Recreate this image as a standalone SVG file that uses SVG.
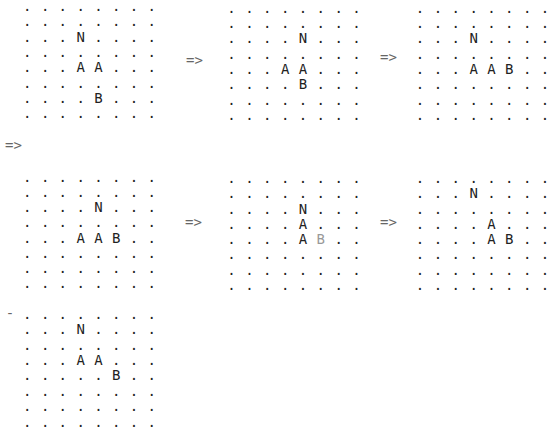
<svg xmlns="http://www.w3.org/2000/svg" width="550" height="429" viewBox="0 0 550 429">
<style>
  .g text { font-family: "DejaVu Sans Mono", "Liberation Mono", monospace; font-size: 14px; fill: #222; text-anchor: middle; }
  .g .faint { fill: #999; }
  .arr { font-family: "DejaVu Sans Mono", "Liberation Mono", monospace; font-size: 14px; fill: #666; }
</style>
<rect width="550" height="429" fill="#fff"/>

<g id="grid1" class="g">
  <text x="27.3 45.1 62.8 80.6 98.4 116.2 133.9 151.7" y="11">........</text>
  <text x="27.3 45.1 62.8 80.6 98.4 116.2 133.9 151.7" y="26.3">........</text>
  <text x="27.3 45.1 62.8 80.6 98.4 116.2 133.9 151.7" y="41.6">...N....</text>
  <text x="27.3 45.1 62.8 80.6 98.4 116.2 133.9 151.7" y="56.9">........</text>
  <text x="27.3 45.1 62.8 80.6 98.4 116.2 133.9 151.7" y="72.2">...AA...</text>
  <text x="27.3 45.1 62.8 80.6 98.4 116.2 133.9 151.7" y="87.5">........</text>
  <text x="27.3 45.1 62.8 80.6 98.4 116.2 133.9 151.7" y="102.8">....B...</text>
  <text x="27.3 45.1 62.8 80.6 98.4 116.2 133.9 151.7" y="118.1">........</text>
</g>

<g id="grid2" class="g">
  <text x="231.5 249.4 267.2 285.1 302.9 320.8 338.6 356.5" y="12.7">........</text>
  <text x="231.5 249.4 267.2 285.1 302.9 320.8 338.6 356.5" y="28">........</text>
  <text x="231.5 249.4 267.2 285.1 302.9 320.8 338.6 356.5" y="43.3">....N...</text>
  <text x="231.5 249.4 267.2 285.1 302.9 320.8 338.6 356.5" y="58.6">........</text>
  <text x="231.5 249.4 267.2 285.1 302.9 320.8 338.6 356.5" y="73.9">...AA...</text>
  <text x="231.5 249.4 267.2 285.1 302.9 320.8 338.6 356.5" y="89.2">....B...</text>
  <text x="231.5 249.4 267.2 285.1 302.9 320.8 338.6 356.5" y="104.5">........</text>
  <text x="231.5 249.4 267.2 285.1 302.9 320.8 338.6 356.5" y="119.8">........</text>
</g>

<g id="grid3" class="g">
  <text x="420 437.9 455.7 473.6 491.4 509.3 527.2 545" y="12.7">........</text>
  <text x="420 437.9 455.7 473.6 491.4 509.3 527.2 545" y="28">........</text>
  <text x="420 437.9 455.7 473.6 491.4 509.3 527.2 545" y="43.3">...N....</text>
  <text x="420 437.9 455.7 473.6 491.4 509.3 527.2 545" y="58.6">........</text>
  <text x="420 437.9 455.7 473.6 491.4 509.3 527.2 545" y="73.9">...AAB..</text>
  <text x="420 437.9 455.7 473.6 491.4 509.3 527.2 545" y="89.2">........</text>
  <text x="420 437.9 455.7 473.6 491.4 509.3 527.2 545" y="104.5">........</text>
  <text x="420 437.9 455.7 473.6 491.4 509.3 527.2 545" y="119.8">........</text>
</g>

<g id="grid4" class="g">
  <text x="27.3 45.1 62.8 80.6 98.4 116.2 133.9 151.7" y="181.7">........</text>
  <text x="27.3 45.1 62.8 80.6 98.4 116.2 133.9 151.7" y="196.9">........</text>
  <text x="27.3 45.1 62.8 80.6 98.4 116.2 133.9 151.7" y="212.1">....N...</text>
  <text x="27.3 45.1 62.8 80.6 98.4 116.2 133.9 151.7" y="227.3">........</text>
  <text x="27.3 45.1 62.8 80.6 98.4 116.2 133.9 151.7" y="242.5">...AAB..</text>
  <text x="27.3 45.1 62.8 80.6 98.4 116.2 133.9 151.7" y="257.7">........</text>
  <text x="27.3 45.1 62.8 80.6 98.4 116.2 133.9 151.7" y="272.9">........</text>
  <text x="27.3 45.1 62.8 80.6 98.4 116.2 133.9 151.7" y="288.1">........</text>
</g>

<g id="grid5" class="g">
  <text x="231.5 249.4 267.2 285.1 302.9 320.8 338.6 356.5" y="182.9">........</text>
  <text x="231.5 249.4 267.2 285.1 302.9 320.8 338.6 356.5" y="198.2">........</text>
  <text x="231.5 249.4 267.2 285.1 302.9 320.8 338.6 356.5" y="213.5">....N...</text>
  <text x="231.5 249.4 267.2 285.1 302.9 320.8 338.6 356.5" y="228.8">....A...</text>
  <text x="231.5 249.4 267.2 285.1 302.9 320.8 338.6 356.5" y="244.1">....A<tspan class="faint">B</tspan>..</text>
  <text x="231.5 249.4 267.2 285.1 302.9 320.8 338.6 356.5" y="259.4">........</text>
  <text x="231.5 249.4 267.2 285.1 302.9 320.8 338.6 356.5" y="274.7">........</text>
  <text x="231.5 249.4 267.2 285.1 302.9 320.8 338.6 356.5" y="290">........</text>
</g>

<g id="grid6" class="g">
  <text x="420 437.9 455.7 473.6 491.4 509.3 527.2 545" y="182.9">........</text>
  <text x="420 437.9 455.7 473.6 491.4 509.3 527.2 545" y="198.2">...N....</text>
  <text x="420 437.9 455.7 473.6 491.4 509.3 527.2 545" y="213.5">........</text>
  <text x="420 437.9 455.7 473.6 491.4 509.3 527.2 545" y="228.8">....A...</text>
  <text x="420 437.9 455.7 473.6 491.4 509.3 527.2 545" y="244.1">....AB..</text>
  <text x="420 437.9 455.7 473.6 491.4 509.3 527.2 545" y="259.4">........</text>
  <text x="420 437.9 455.7 473.6 491.4 509.3 527.2 545" y="274.7">........</text>
  <text x="420 437.9 455.7 473.6 491.4 509.3 527.2 545" y="290">........</text>
</g>

<g id="grid7" class="g">
  <text x="27.3 45.1 62.8 80.6 98.4 116.2 133.9 151.7" y="318.8">........</text>
  <text x="27.3 45.1 62.8 80.6 98.4 116.2 133.9 151.7" y="334.2">...N....</text>
  <text x="27.3 45.1 62.8 80.6 98.4 116.2 133.9 151.7" y="349.6">........</text>
  <text x="27.3 45.1 62.8 80.6 98.4 116.2 133.9 151.7" y="365">...AA...</text>
  <text x="27.3 45.1 62.8 80.6 98.4 116.2 133.9 151.7" y="380.4">.....B..</text>
  <text x="27.3 45.1 62.8 80.6 98.4 116.2 133.9 151.7" y="395.8">........</text>
  <text x="27.3 45.1 62.8 80.6 98.4 116.2 133.9 151.7" y="411.2">........</text>
  <text x="27.3 45.1 62.8 80.6 98.4 116.2 133.9 151.7" y="426.6">........</text>
</g>

<g id="connectors">
  <text class="arr" x="186" y="65">=&gt;</text>
  <text class="arr" x="380" y="62">=&gt;</text>
  <text class="arr" x="5" y="150">=&gt;</text>
  <text class="arr" x="185" y="226.5">=&gt;</text>
  <text class="arr" x="380" y="226.5">=&gt;</text>
  <text class="arr" x="10" y="318" text-anchor="middle">-</text>
</g>
</svg>
